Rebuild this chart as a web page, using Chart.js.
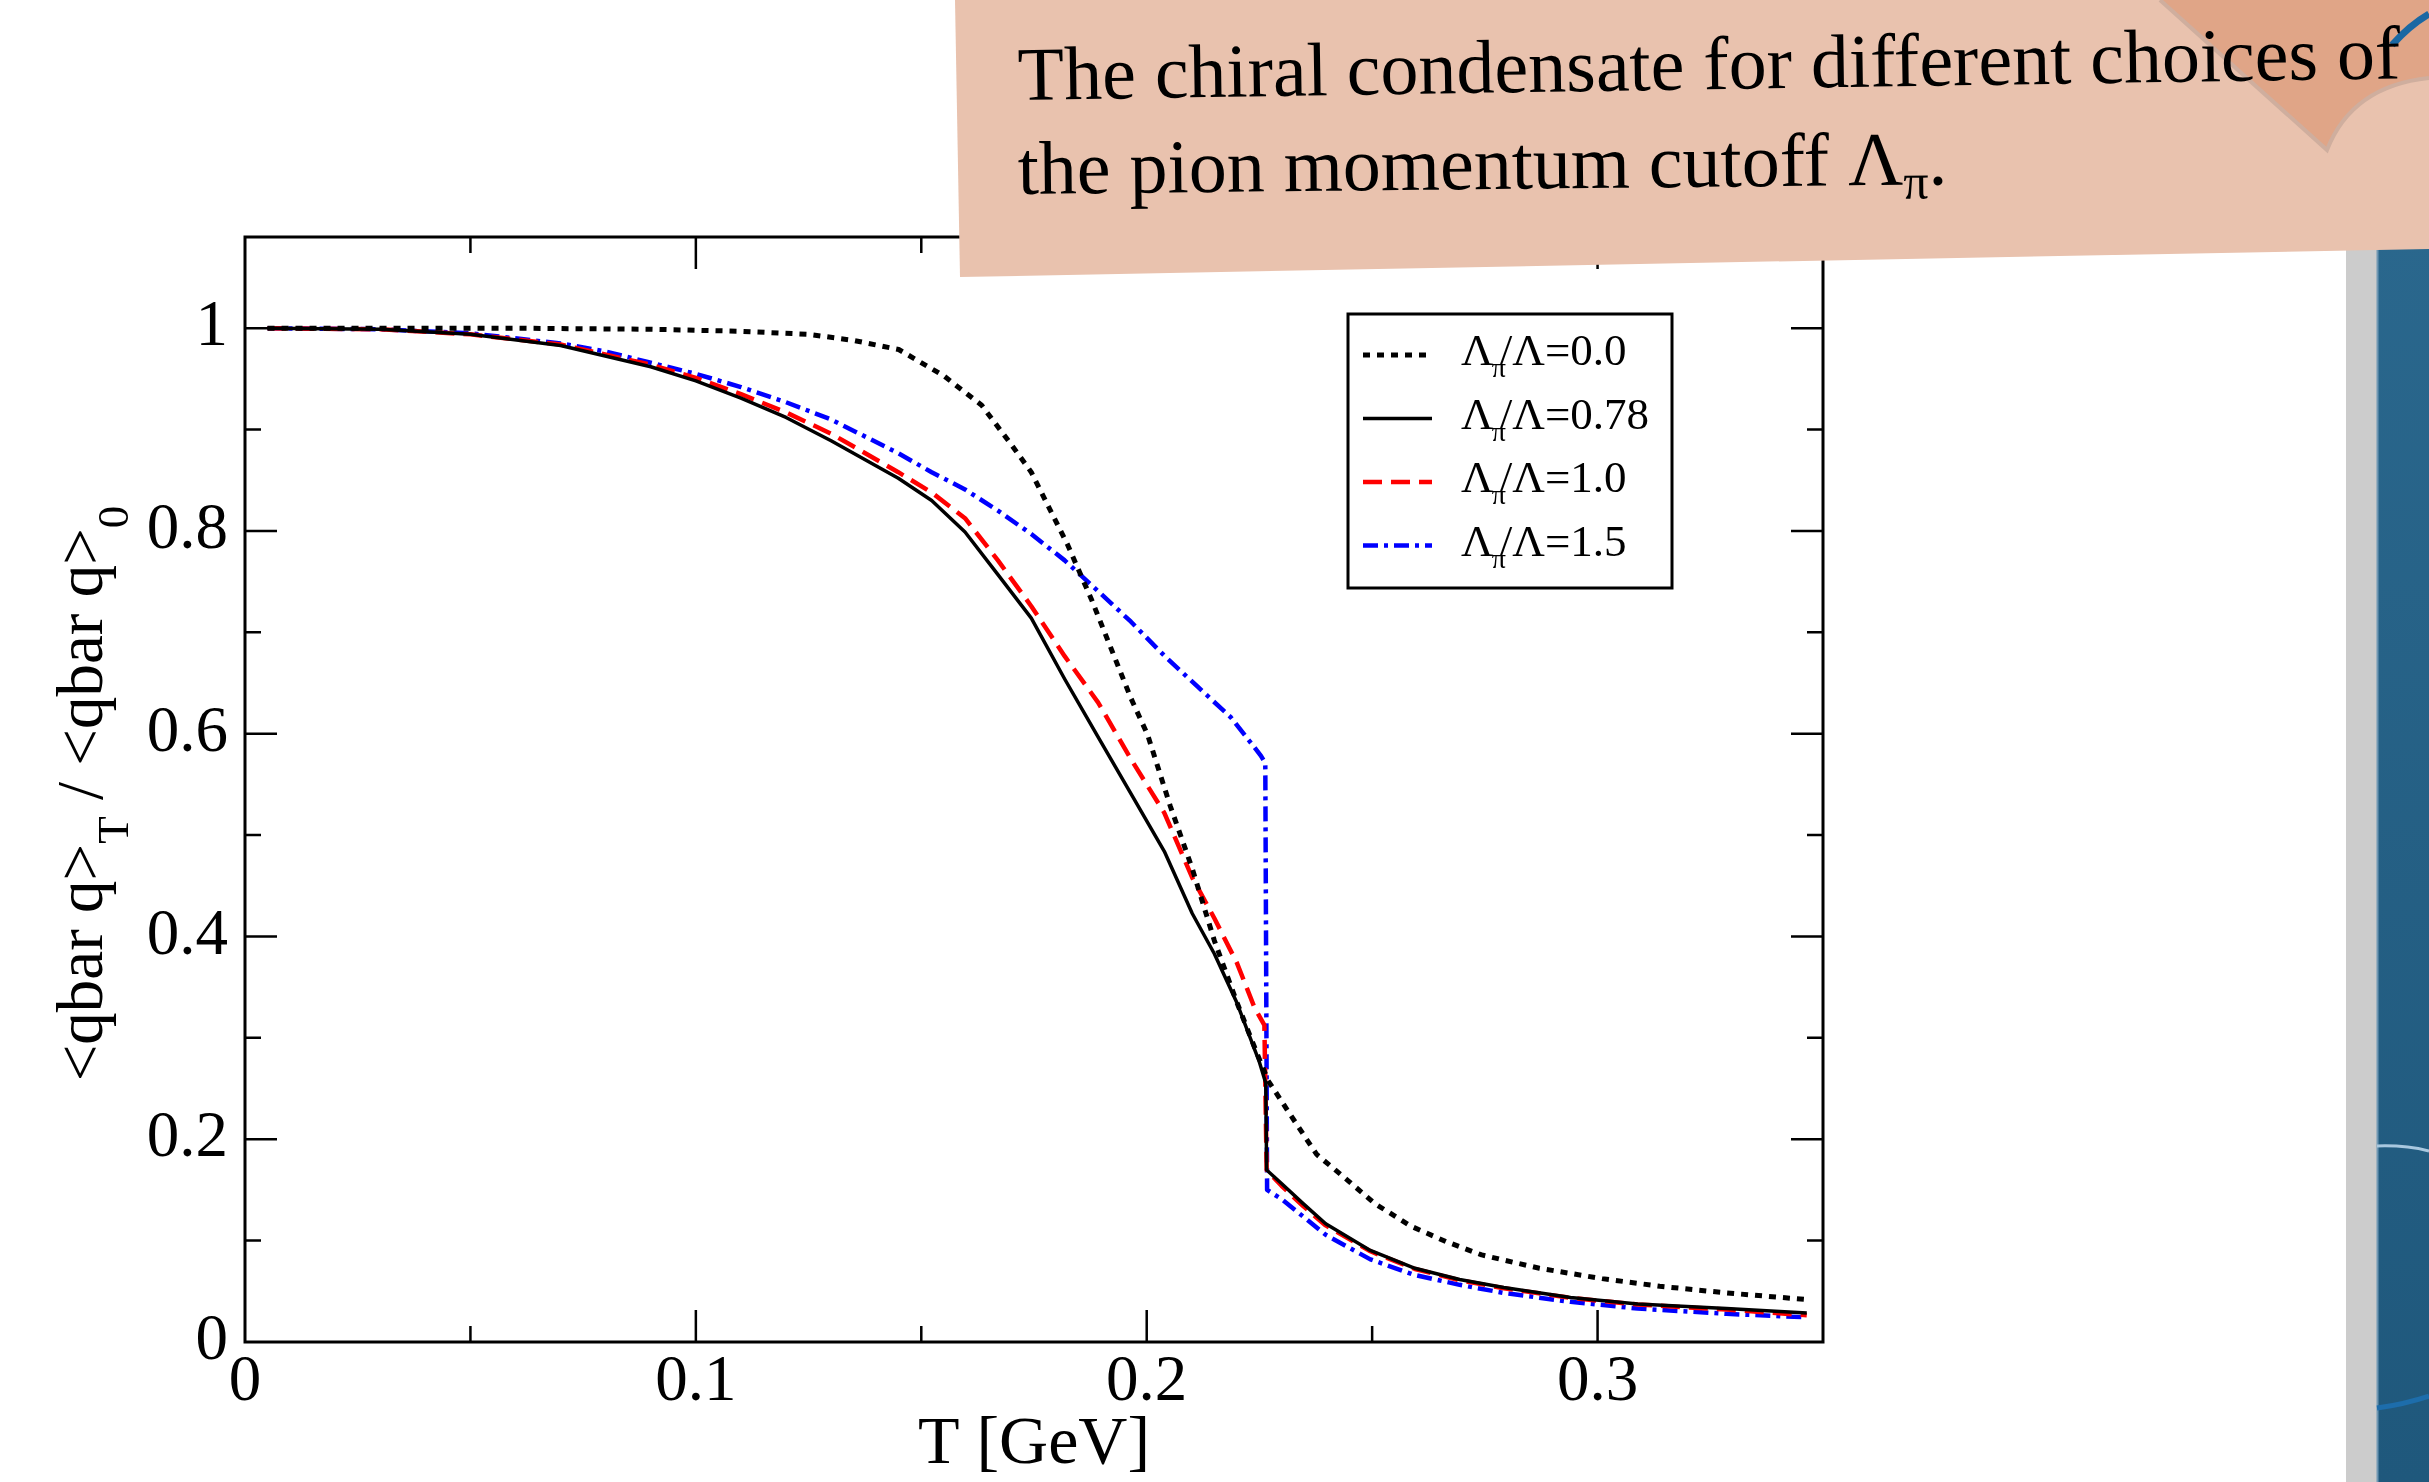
<!DOCTYPE html>
<html>
<head>
<meta charset="utf-8">
<script src="https://cdn.jsdelivr.net/npm/chart.js@4.4.0/dist/chart.umd.min.js"></script>
<style>
  html, body { margin: 0; padding: 0; background: #fff; }
  #wrap { position: relative; width: 2429px; height: 1482px; overflow: hidden; }
  #slide { position: absolute; left: 0; top: 0; }
  .note { font-family: 'Liberation Serif', 'Times New Roman', serif; font-size: 76px; fill: #000; }
</style>
</head>
<body>
<div id="wrap">
  <canvas id="condChart" width="2429" height="1482"></canvas>
  <svg id="slide" width="2429" height="1482" xmlns="http://www.w3.org/2000/svg">
    <defs>
      <linearGradient id="bluePanel" x1="0" y1="0" x2="0" y2="1">
        <stop offset="0" stop-color="#2c6a90"/>
        <stop offset="1" stop-color="#1f587c"/>
      </linearGradient>
    </defs>
    <rect x="2346" y="0" width="31" height="1482" fill="#cccccc"/>
    <rect x="2377" y="0" width="52" height="1482" fill="url(#bluePanel)"/>
    <line x1="2377.5" y1="0" x2="2377.5" y2="1482" stroke="#6f97b3" stroke-width="2"/>
    <path d="M2377 1146 Q2405 1145 2429 1151" fill="none" stroke="#a9c8df" stroke-width="3"/>
    <path d="M2377 1408 Q2405 1404 2429 1396" fill="none" stroke="#1d6dab" stroke-width="5"/>
    <polygon points="955,0 960,277 2429,249 2429,0" fill="#e9c2ae"/>
    <path d="M2160 0 L2327 150 Q2352 86 2429 78 L2429 0 Z" fill="#e0a587"/>
    <path d="M2160 0 L2327 150 Q2352 86 2429 78" fill="none" stroke="#cfae9e" stroke-width="4"/>
    <path d="M2392 45 Q2410 25 2429 14" fill="none" stroke="#1a68a3" stroke-width="7"/>
    <text class="note" x="1018" y="100" transform="rotate(-0.9 1018 100)">The chiral condensate for different choices of</text>
    <text class="note" x="1018" y="194" transform="rotate(-0.6 1018 194)">the pion momentum cutoff Λ<tspan style="font-size:50px" dy="14">π</tspan><tspan dy="-14">.</tspan></text>
  </svg>
</div>
<script>
// Температура T [GeV] и значения <qbar q>_T/<qbar q>_0 для каждого Λπ/Λ
const seriesLabels = ['0.0', '0.78', '1.0', '1.5'];

const tCut00 = [0.005, 0.03, 0.06, 0.09, 0.11, 0.125, 0.135, 0.145, 0.155, 0.1634, 0.17, 0.1744, 0.1825, 0.1877,
  0.1965, 0.2002, 0.2052, 0.2101, 0.215, 0.22, 0.2239, 0.2269, 0.2318, 0.2377, 0.2447, 0.2506, 0.2585,
  0.2664, 0.2743, 0.2871, 0.301, 0.3138, 0.3286, 0.3464];
const vCut00 = [1.0, 1.0, 1.0, 0.999, 0.997, 0.994, 0.988, 0.979, 0.953, 0.924, 0.885, 0.858, 0.786, 0.733,
  0.635, 0.599, 0.529, 0.467, 0.396, 0.335, 0.291, 0.258, 0.2246, 0.185, 0.159, 0.1365, 0.1145,
  0.099, 0.0859, 0.0727, 0.0625, 0.055, 0.0484, 0.0419];

const tCut078 = [0.005, 0.03, 0.05, 0.07, 0.09, 0.1, 0.11, 0.12, 0.13, 0.1449, 0.1523, 0.1597, 0.167, 0.1744,
  0.1818, 0.1892, 0.1965, 0.2039, 0.2101, 0.215, 0.22, 0.2249, 0.2264, 0.2266, 0.2299, 0.2347, 0.2397,
  0.2496, 0.2595, 0.2694, 0.2792, 0.294, 0.3089, 0.3286, 0.3464];
const vCut078 = [1.0, 0.999, 0.994, 0.983, 0.962, 0.948, 0.931, 0.912, 0.889, 0.852, 0.830, 0.799, 0.757, 0.714,
  0.654, 0.597, 0.541, 0.484, 0.4227, 0.383, 0.3346, 0.2774, 0.2554, 0.1696, 0.1563, 0.1365, 0.1167,
  0.0903, 0.0727, 0.0616, 0.0537, 0.044, 0.0375, 0.033, 0.0286];

const tCut10 = [0.005, 0.03, 0.05, 0.07, 0.09, 0.1, 0.11, 0.12, 0.13, 0.1449, 0.1523, 0.1597, 0.167, 0.1744,
  0.1818, 0.1892, 0.1965, 0.2039, 0.2101, 0.215, 0.22, 0.2239, 0.2261, 0.2266, 0.2299, 0.2347, 0.2397,
  0.2496, 0.2595, 0.2694, 0.2792, 0.294, 0.3089, 0.3286, 0.3464];
const vCut10 = [1.0, 0.999, 0.994, 0.984, 0.964, 0.951, 0.935, 0.917, 0.896, 0.858, 0.838, 0.8126, 0.771, 0.7258,
  0.6765, 0.631, 0.575, 0.522, 0.458, 0.418, 0.374, 0.330, 0.3126, 0.1696, 0.1541, 0.134, 0.115,
  0.0895, 0.072, 0.061, 0.053, 0.0435, 0.037, 0.032, 0.0264];

const tCut15 = [0.005, 0.03, 0.05, 0.07, 0.08, 0.09, 0.1, 0.11, 0.12, 0.13, 0.1449, 0.1523, 0.1597, 0.167,
  0.1744, 0.1818, 0.1892, 0.1965, 0.2039, 0.2113, 0.2187, 0.2253, 0.2263, 0.2267, 0.2299, 0.2397, 0.2496,
  0.2595, 0.2694, 0.2792, 0.294, 0.3089, 0.3286, 0.3464];
const vCut15 = [1.0, 0.999, 0.995, 0.985, 0.977, 0.966, 0.955, 0.942, 0.927, 0.91, 0.8767, 0.858, 0.841, 0.82,
  0.797, 0.771, 0.7407, 0.7105, 0.677, 0.6464, 0.616, 0.5785, 0.571, 0.15, 0.141, 0.1057, 0.0815,
  0.066, 0.0564, 0.0484, 0.0396, 0.033, 0.0278, 0.0243];

const xTickLabels = ['0', '0.1', '0.2', '0.3'];
const yTickLabels = ['0', '0.2', '0.4', '0.6', '0.8', '1'];

const SERIF = "'Liberation Serif', 'Times New Roman', serif";

function toPoints(ts, vs) {
  return ts.map((t, i) => ({ x: t, y: vs[i] }));
}

function lineSet(label, ts, vs, color, dash, width) {
  return {
    label: label,
    data: toPoints(ts, vs),
    borderColor: color,
    backgroundColor: color,
    borderDash: dash,
    borderWidth: width,
    borderCapStyle: 'butt',
    borderJoinStyle: 'round',
    showLine: true,
    pointRadius: 0,
    tension: 0,
    fill: false
  };
}

// рамка, внутренние засечки, подпись оси Y и легенда
const gracePlot = {
  id: 'gracePlot',
  afterDraw(chart) {
    const { ctx, chartArea: a, scales } = chart;
    const xs = scales.x, ys = scales.y;
    ctx.save();
    ctx.strokeStyle = '#000';
    ctx.lineWidth = 2.5;
    ctx.beginPath();
    for (let i = 1; i < 7; i++) {
      const px = xs.getPixelForValue(i * 0.05);
      const len = i % 2 === 0 ? 32 : 16;
      ctx.moveTo(px, a.bottom); ctx.lineTo(px, a.bottom - len);
      ctx.moveTo(px, a.top); ctx.lineTo(px, a.top + len);
    }
    for (let i = 1; i <= 10; i++) {
      const py = ys.getPixelForValue(i * 0.1);
      const len = i % 2 === 0 ? 32 : 16;
      ctx.moveTo(a.left, py); ctx.lineTo(a.left + len, py);
      ctx.moveTo(a.right, py); ctx.lineTo(a.right - len, py);
    }
    ctx.stroke();
    ctx.lineWidth = 3;
    ctx.strokeRect(a.left, a.top, a.right - a.left, a.bottom - a.top);

    // подпись оси Y с индексами
    const main = '65px ' + SERIF, sub = '45px ' + SERIF;
    const parts = [['<qbar q>', main, 0], ['T', sub, 26], [' / <qbar q>', main, 0], ['0', sub, 26]];
    let total = 0;
    parts.forEach(p => { ctx.font = p[1]; total += ctx.measureText(p[0]).width; });
    ctx.translate(102, (a.top + a.bottom) / 2 + 4);
    ctx.rotate(-Math.PI / 2);
    ctx.fillStyle = '#000';
    ctx.textBaseline = 'alphabetic';
    let cx = -total / 2;
    parts.forEach(p => {
      ctx.font = p[1];
      ctx.fillText(p[0], cx, p[2]);
      cx += ctx.measureText(p[0]).width;
    });
    ctx.restore();

    // легенда
    ctx.save();
    const lx = a.left + 1103, ly = a.top + 77;
    ctx.lineWidth = 3;
    ctx.strokeStyle = '#000';
    ctx.strokeRect(lx, ly, 324, 274);
    chart.data.datasets.forEach((ds, i) => {
      const ry = ly + 41 + i * 63.5;
      ctx.beginPath();
      ctx.strokeStyle = ds.borderColor;
      ctx.lineWidth = ds.borderWidth;
      ctx.setLineDash(ds.borderDash);
      ctx.moveTo(lx + 15, ry);
      ctx.lineTo(lx + 84, ry);
      ctx.stroke();
      ctx.setLineDash([]);
      ctx.fillStyle = '#000';
      let tx = lx + 113;
      const by = ry + 10;
      ctx.font = '45px ' + SERIF;
      ctx.fillText('Λ', tx, by);
      tx += ctx.measureText('Λ').width;
      ctx.font = '28px ' + SERIF;
      ctx.fillText('π', tx - 2, by + 12);
      tx += ctx.measureText('π').width - 8;
      ctx.font = '45px ' + SERIF;
      ctx.fillText('/Λ=' + ds.label, tx, by);
    });
    ctx.restore();
  }
};

const ctx = document.getElementById('condChart').getContext('2d');
new Chart(ctx, {
  type: 'scatter',
  data: {
    datasets: [
      lineSet(seriesLabels[0], tCut00, vCut00, '#000000', [7, 7], 5),
      lineSet(seriesLabels[1], tCut078, vCut078, '#000000', [], 3.5),
      lineSet(seriesLabels[2], tCut10, vCut10, '#ff0000', [19, 9], 4.5),
      lineSet(seriesLabels[3], tCut15, vCut15, '#0000ff', [15, 6, 4, 6], 4.5)
    ]
  },
  options: {
    responsive: false,
    animation: false,
    layout: { padding: { top: 237, right: 606, left: 0, bottom: 0 } },
    plugins: {
      legend: { display: false },
      tooltip: { enabled: false }
    },
    scales: {
      x: {
        type: 'linear',
        min: 0,
        max: 0.35,
        grid: { display: false, drawTicks: false },
        border: { display: false },
        ticks: {
          stepSize: 0.05,
          autoSkip: false,
          maxRotation: 0,
          padding: 2,
          color: '#000',
          font: { family: SERIF, size: 65 },
          callback: v => {
            const k = Math.round(v * 10);
            return Math.abs(v * 10 - k) < 1e-6 && k < xTickLabels.length ? xTickLabels[k] : '';
          }
        },
        title: {
          display: true,
          text: 'T [GeV]',
          color: '#000',
          font: { family: SERIF, size: 68, lineHeight: 1 },
          padding: { top: 0, bottom: 3 }
        },
        afterFit: s => { s.height = 140; }
      },
      y: {
        type: 'linear',
        min: 0,
        max: 1.09,
        grid: { display: false, drawTicks: false },
        border: { display: false },
        ticks: {
          stepSize: 0.1,
          autoSkip: false,
          padding: 17,
          color: '#000',
          font: { family: SERIF, size: 65 },
          callback: v => {
            const k = Math.round(v * 5);
            return Math.abs(v * 5 - k) < 1e-6 && k < yTickLabels.length ? yTickLabels[k] : '';
          }
        },
        afterFit: s => { s.width = 245; }
      }
    }
  },
  plugins: [gracePlot]
});
</script>
</body>
</html>
